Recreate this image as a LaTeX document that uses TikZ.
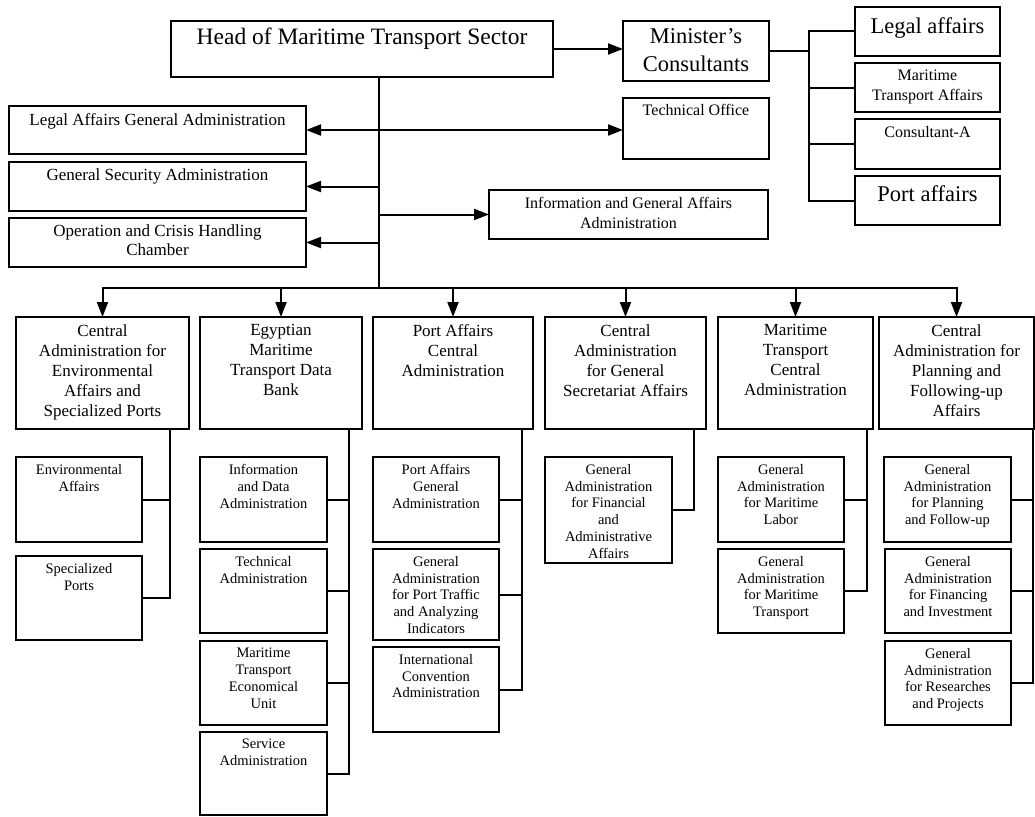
\documentclass[tikz,border=0pt]{standalone}
\usepackage{fontspec}
\setmainfont{Liberation Serif}
\usepackage{tikz}
\usetikzlibrary{arrows.meta,positioning}

\tikzset{
  box/.style={draw, line width=1.8pt, anchor=north west, inner sep=0pt, outer sep=0pt},
  txt/.style={anchor=north, yshift=-7pt, inner sep=0pt, align=center},
  bigtxt/.style={txt, font=\fontsize{22.5}{28}\selectfont},
  midtxt/.style={txt, font=\fontsize{16}{20}\selectfont},
  sidetxt/.style={txt, font=\fontsize{17}{19}\selectfont},
  coltxt/.style={txt, font=\fontsize{17}{20}\selectfont},
  subtxt/.style={txt, font=\fontsize{14.5}{16.8}\selectfont},
  link/.style={line width=2pt, line cap=rect},
  arr/.style={line width=2pt, -{Triangle[length=15pt,width=11pt]}},
  darr/.style={line width=2pt, {Triangle[length=15pt,width=11pt]}-{Triangle[length=15pt,width=11pt]}}
}

\begin{document}
\begin{tikzpicture}[x=1pt,y=-1pt]
\useasboundingbox (0,0) rectangle (1035,816);

% top level
\node[box, minimum width=382pt, minimum height=56pt, label={[bigtxt, font=\fontsize{23.5}{28}\selectfont]north:Head of Maritime Transport Sector}] (head) at (171,21) {};
\node[box, minimum width=146pt, minimum height=60pt, label={[bigtxt]north:{Minister’s\\Consultants}}] (minister) at (623,21) {};
\node[box, minimum width=146pt, minimum height=61pt, label={[midtxt, yshift=1pt]north:Technical Office}] (techoff) at (623,98) {};

% consultants
\node[box, minimum width=145pt, minimum height=49pt, label={[bigtxt, yshift=-3pt]north:Legal affairs}] (legalaff) at (855,7) {};
\node[box, minimum width=145pt, minimum height=49pt, label={[midtxt]north:{Maritime\\Transport Affairs}}] (mtaff) at (855,63) {};
\node[box, minimum width=145pt, minimum height=50pt, label={[midtxt]north:Consultant-A}] (consa) at (855,119) {};
\node[box, minimum width=145pt, minimum height=49pt, label={[bigtxt, yshift=-2pt]north:Port affairs}] (portaff) at (855,176) {};

% side administrations
\node[box, minimum width=297pt, minimum height=48pt, label={[sidetxt]north:Legal Affairs General Administration}] (legalga) at (9,106) {};
\node[box, minimum width=297pt, minimum height=49pt, label={[sidetxt]north:General Security Administration}] (secadm) at (9,162) {};
\node[box, minimum width=297pt, minimum height=49pt, label={[sidetxt]north:{Operation and Crisis Handling\\Chamber}}] (opchamber) at (9,218) {};
\node[box, minimum width=279pt, minimum height=49pt, label={[midtxt]north:{Information and General Affairs\\Administration}}] (infoadm) at (489,190) {};

% central administrations
\node[box, minimum width=173pt, minimum height=112pt, label={[coltxt]north:{Central\\Administration for\\Environmental\\Affairs and\\Specialized Ports}}] (c1) at (16,317) {};
\node[box, minimum width=162pt, minimum height=112pt, label={[coltxt]north:{Egyptian\\Maritime\\Transport Data\\Bank}}] (c2) at (200,317) {};
\node[box, minimum width=160pt, minimum height=112pt, label={[coltxt]north:{Port Affairs\\Central\\Administration}}] (c3) at (373,317) {};
\node[box, minimum width=161pt, minimum height=112pt, label={[coltxt]north:{Central\\Administration\\for General\\Secretariat Affairs}}] (c4) at (545,317) {};
\node[box, minimum width=155pt, minimum height=112pt, label={[coltxt]north:{Maritime\\Transport\\Central\\Administration}}] (c5) at (718,317) {};
\node[box, minimum width=155pt, minimum height=112pt, label={[coltxt]north:{Central\\Administration for\\Planning and\\Following-up\\Affairs}}] (c6) at (879,317) {};

% general administrations
\node[box, minimum width=126pt, minimum height=85pt, label={[subtxt]north:{Environmental\\Affairs}}] (s11) at (16,457) {};
\node[box, minimum width=126pt, minimum height=84pt, label={[subtxt]north:{Specialized\\Ports}}] (s12) at (16,556) {};

\node[box, minimum width=127pt, minimum height=85pt, label={[subtxt]north:{Information\\and Data\\Administration}}] (s21) at (200,457) {};
\node[box, minimum width=127pt, minimum height=84pt, label={[subtxt]north:{Technical\\Administration}}] (s22) at (200,549) {};
\node[box, minimum width=127pt, minimum height=84pt, label={[subtxt]north:{Maritime\\Transport\\Economical\\Unit}}] (s23) at (200,641) {};
\node[box, minimum width=127pt, minimum height=83pt, label={[subtxt]north:{Service\\Administration}}] (s24) at (200,732) {};

\node[box, minimum width=126pt, minimum height=85pt, label={[subtxt]north:{Port Affairs\\General\\Administration}}] (s31) at (373,457) {};
\node[box, minimum width=126pt, minimum height=91pt, label={[subtxt]north:{General\\Administration\\for Port Traffic\\and Analyzing\\Indicators}}] (s32) at (373,549) {};
\node[box, minimum width=126pt, minimum height=85pt, label={[subtxt]north:{International\\Convention\\Administration}}] (s33) at (373,647) {};

\node[box, minimum width=127pt, minimum height=106pt, label={[subtxt]north:{General\\Administration\\for Financial\\and\\Administrative\\Affairs}}] (s41) at (545,457) {};

\node[box, minimum width=126pt, minimum height=85pt, label={[subtxt]north:{General\\Administration\\for Maritime\\Labor}}] (s51) at (718,457) {};
\node[box, minimum width=126pt, minimum height=84pt, label={[subtxt]north:{General\\Administration\\for Maritime\\Transport}}] (s52) at (718,549) {};

\node[box, minimum width=127pt, minimum height=85pt, label={[subtxt]north:{General\\Administration\\for Planning\\and Follow-up}}] (s61) at (884,457) {};
\node[box, minimum width=126pt, minimum height=84pt, label={[subtxt]north:{General\\Administration\\for Financing\\and Investment}}] (s62) at (885,549) {};
\node[box, minimum width=126pt, minimum height=84pt, label={[subtxt]north:{General\\Administration\\for Researches\\and Projects}}] (s63) at (885,641) {};

% bus lines
\coordinate (bus) at (379,288);
\coordinate (cbus) at (809,0);
\coordinate (sp1) at (170,0);
\coordinate (sp2) at (349,0);
\coordinate (sp3) at (522,0);
\coordinate (sp4) at (694,0);
\coordinate (sp5) at (867,0);
\coordinate (sp6) at (1033,0);

% connectors
\draw[arr] (head.east) -- (head.east -| minister.west);
\draw[darr] (legalga.east) -- (legalga.east -| techoff.west);
\draw[link] (head.south -| bus) -- (bus);
\draw[arr] (bus |- secadm.east) -- (secadm.east);
\draw[arr] (bus |- opchamber.east) -- (opchamber.east);
\draw[arr] (bus |- infoadm.west) -- (infoadm.west);

\draw[link] (minister.east) -- (minister.east -| cbus);
\draw[link] (cbus |- legalaff.west) -- (cbus |- portaff.west);
\foreach \n in {legalaff,mtaff,consa,portaff}
  \draw[link] (cbus |- \n.west) -- (\n.west);

\draw[link] (bus -| c1.north) -- (bus -| c6.north);
\foreach \c in {c1,c2,c3,c4,c5,c6}
  \draw[arr] (bus -| \c.north) -- (\c.north);

\draw[link] (c1.south -| sp1) -- (sp1 |- s12.east);
\draw[link] (c2.south -| sp2) -- (sp2 |- s24.east);
\draw[link] (c3.south -| sp3) -- (sp3 |- s33.east);
\draw[link] (c4.south -| sp4) -- (sp4 |- s41.east);
\draw[link] (c5.south -| sp5) -- (sp5 |- s52.east);
\draw[link] (c6.south -| sp6) -- (sp6 |- s63.east);
\foreach \s/\p in {s11/sp1,s12/sp1,s21/sp2,s22/sp2,s23/sp2,s24/sp2,s31/sp3,s32/sp3,s33/sp3,s41/sp4,s51/sp5,s52/sp5,s61/sp6,s62/sp6,s63/sp6}
  \draw[link] (\p |- \s.east) -- (\s.east);
\end{tikzpicture}
\end{document}
